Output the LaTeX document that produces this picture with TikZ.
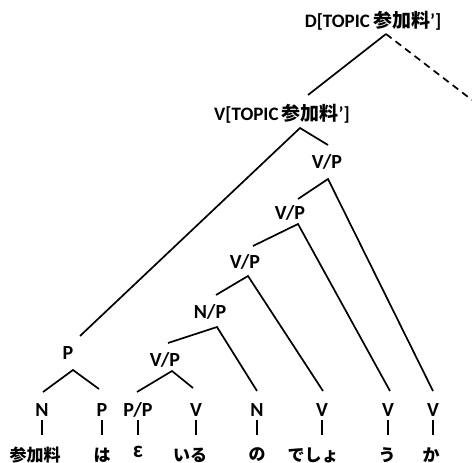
\documentclass[tikz,border=0pt]{standalone}
\usepackage{fontspec}
\setmainfont{Carlito}
\newfontfamily\jp{Noto Sans CJK JP}
\begin{document}
\begin{tikzpicture}[x=1pt,y=-1pt,
  lab/.style={inner sep=0pt,font=\fontsize{20}{22}\selectfont\bfseries},
  toplab/.style={inner sep=0pt,font=\fontsize{19}{21}\selectfont\bfseries},
  word/.style={inner sep=0pt,font=\fontsize{17}{19}\selectfont\jp\bfseries},
  edge/.style={line width=1.7pt},
  dash edge/.style={line width=1.7pt,dash pattern=on 7pt off 5pt}]
\useasboundingbox (0,0) rectangle (472,463);
% labels
\node[toplab] (D) at (373,21) {D[TOPIC\,{\jp 参加料}’]};
\node[toplab] (T) at (282,114) {V[TOPIC\,{\jp 参加料}’]};
\node[lab] (vp1) at (327,162) {V/P};
\node[lab] (vp2) at (290,213) {V/P};
\node[lab] (vp3) at (245,262) {V/P};
\node[lab] (np) at (210,312) {N/P};
\node[lab] (vp4) at (165,360) {V/P};
\node[lab] (pp) at (68,353) {P};
\node[lab] (b1) at (42,410) {N};
\node[lab] (b2) at (102,410) {P};
\node[lab] (b3) at (138,410) {P/P};
\node[lab] (b4) at (196,410) {V};
\node[lab] (b5) at (257,410) {N};
\node[lab] (b6) at (322,410) {V};
\node[lab] (b7) at (388,410) {V};
\node[lab] (b8) at (433,410) {V};
% words
\node[word] (w1) at (35,455) {参加料};
\node[word] (w2) at (102,455) {は};
\node[inner sep=0pt,font=\fontsize{23}{25}\selectfont\bfseries] (w3) at (138,452) {ɛ};
\node[word] (w4) at (190,455) {いる};
\node[word] (w5) at (257,455) {の};
\node[word] (w6) at (313,455) {でしょ};
\node[word] (w7) at (387,455) {う};
\node[word] (w8) at (431,455) {か};
\coordinate (Dend) at (472,100);
% D
\draw[edge] ([shift={(13,13)}]D.center) -- ([shift={(26,-19)}]T.center);
\draw[dash edge] ([shift={(13,13)}]D.center) -- (Dend);
% V[TOPIC]
\draw[edge] ([shift={(12,-17)}]pp.center) -- ([shift={(18,14)}]T.center) -- ([shift={(1,-17)}]vp1.center);
% vp1
\draw[edge] ([shift={(8,-14)}]vp2.center) -- ([shift={(1,17)}]vp1.center) -- ([shift={(0,-19)}]b8.center);
% vp2
\draw[edge] ([shift={(8,-16)}]vp3.center) -- ([shift={(8,11)}]vp2.center) -- ([shift={(2,-19)}]b7.center);
% vp3
\draw[edge] ([shift={(6,-17)}]np.center) -- ([shift={(3,14)}]vp3.center) -- ([shift={(1,-19)}]b6.center);
% np
\draw[edge] ([shift={(3,-17)}]vp4.center) -- ([shift={(7,15)}]np.center) -- ([shift={(0,-19)}]b5.center);
% vp4
\draw[edge] ([shift={(-1,-18)}]b3.center) -- ([shift={(7,11)}]vp4.center) -- ([shift={(-3,-22)}]b4.center);
% pp
\draw[edge] ([shift={(1,-18)}]b1.center) -- ([shift={(5,17)}]pp.center) -- ([shift={(-3,-21)}]b2.center);
% ticks
\foreach \b in {b1,b2,b3,b4,b5,b6,b7,b8}
  \draw[edge] ([shift={(0,10)}]\b.center) -- ([shift={(0,25)}]\b.center);
\end{tikzpicture}
\end{document}
